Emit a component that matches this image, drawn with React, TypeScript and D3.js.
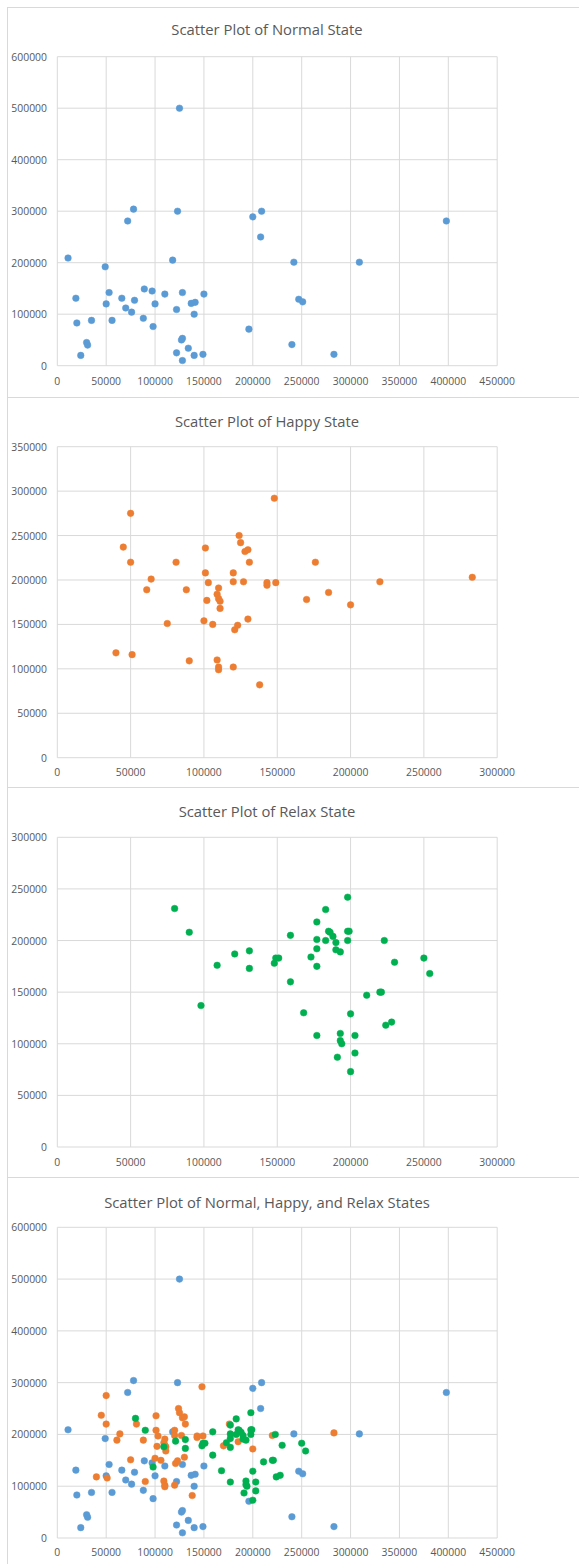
import React from "react";
import * as d3 from "d3";

type Pt = [number, number];

const normalData: Pt[] = [
  [11000, 209000], [19000, 131000], [20000, 83000], [24000, 20000], [30000, 45000],
  [31000, 40000], [35000, 88000], [49000, 192000], [50000, 120000], [53000, 142000],
  [56000, 88000], [66000, 131000], [70000, 112000], [72000, 281000], [76000, 104000],
  [78000, 304000], [79000, 127000], [88000, 92000], [89000, 149000], [97000, 145000],
  [98000, 76000], [100000, 120000], [110000, 139000], [118000, 205000], [122000, 109000],
  [122000, 25000], [123000, 300000], [125000, 500000], [127000, 50000], [128000, 53000],
  [128000, 142000], [128000, 10000], [134000, 34000], [137000, 121000], [141000, 123000],
  [140000, 100000], [140000, 20000], [149000, 22000], [150000, 139000], [196000, 71000],
  [200000, 289000], [208000, 250000], [209000, 300000], [240000, 41000], [242000, 201000],
  [247000, 129000], [251000, 124000], [283000, 22000], [309000, 201000], [398000, 281000],
];

const happyData: Pt[] = [
  [40000, 118000], [45000, 237000], [50000, 275000], [50000, 220000], [51000, 116000],
  [61000, 189000], [64000, 201000], [75000, 151000], [81000, 220000], [88000, 189000],
  [90000, 109000], [100000, 154000], [101000, 236000], [101000, 208000], [102000, 177000],
  [103000, 197000], [106000, 150000], [110000, 191000], [109000, 184000], [110000, 179000],
  [111000, 176000], [111000, 168000], [109000, 110000], [110000, 102000], [110000, 99000],
  [120000, 208000], [120000, 198000], [120000, 102000], [121000, 144000], [123000, 149000],
  [124000, 250000], [125000, 242000], [127000, 198000], [128000, 232000], [130000, 234000],
  [131000, 220000], [130000, 156000], [138000, 82000], [143000, 197000], [143000, 194000],
  [148000, 292000], [149000, 197000], [170000, 178000], [176000, 220000], [185000, 186000],
  [200000, 172000], [220000, 198000], [283000, 203000],
];

const relaxData: Pt[] = [
  [80000, 231000], [90000, 208000], [98000, 137000], [109000, 176000], [121000, 187000],
  [131000, 190000], [131000, 173000], [148000, 178000], [149000, 183000], [151000, 183000],
  [159000, 205000], [159000, 160000], [168000, 130000], [173000, 184000], [177000, 201000],
  [177000, 192000], [177000, 175000], [177000, 218000], [177000, 108000], [183000, 200000],
  [183000, 230000], [185000, 209000], [186000, 208000], [188000, 204000], [190000, 198000],
  [190000, 191000], [193000, 189000], [191000, 87000], [193000, 103000], [193000, 110000],
  [194000, 100000], [198000, 242000], [198000, 209000], [199000, 209000], [198000, 200000],
  [200000, 129000], [200000, 73000], [203000, 108000], [203000, 91000], [211000, 147000],
  [220000, 150000], [221000, 150000], [223000, 200000], [224000, 118000], [228000, 121000],
  [230000, 179000], [250000, 183000], [254000, 168000],
];

const chartTitles = [
  "Scatter Plot of Normal State",
  "Scatter Plot of Happy State",
  "Scatter Plot of Relax State",
  "Scatter Plot of Normal, Happy, and Relax States",
];
const xMaxes = [450000, 300000, 300000, 450000];
const yMaxes = [600000, 350000, 300000, 600000];
const xSteps = [50000, 50000, 50000, 50000];
const ySteps = [100000, 50000, 50000, 100000];

const COLORS = { normal: "#5B9BD5", happy: "#ED7D31", relax: "#00B050" };

const panelSeries: { data: Pt[]; color: string }[][] = [
  [{ data: normalData, color: COLORS.normal }],
  [{ data: happyData, color: COLORS.happy }],
  [{ data: relaxData, color: COLORS.relax }],
  [
    { data: normalData, color: COLORS.normal },
    { data: happyData, color: COLORS.happy },
    { data: relaxData, color: COLORS.relax },
  ],
];

// layout (absolute px)
const layout = [
  { top: 7, title: 29.3, plotTop: 56.7, plotBottom: 365.7, tickY: 380.7 },
  { top: 397, title: 420.7, plotTop: 446.7, plotBottom: 757.7, tickY: 772.3 },
  { top: 787, title: 810.7, plotTop: 837.3, plotBottom: 1147, tickY: 1161.7 },
  { top: 1177, title: 1201.7, plotTop: 1227.3, plotBottom: 1538, tickY: 1552.3 },
];
const PLOT_LEFT = 57.3;
const PLOT_RIGHT = 497.2;
const FONT = "'Open Sans', 'Noto Sans', sans-serif";
const TEXT = "#595959";
const GRID = "#D9D9D9";

function Panel({ i }: { i: number }) {
  const L = layout[i];
  const x = d3.scaleLinear().domain([0, xMaxes[i]]).range([PLOT_LEFT, PLOT_RIGHT]);
  const y = d3.scaleLinear().domain([0, yMaxes[i]]).range([L.plotBottom, L.plotTop]);
  const xTicks = d3.range(0, xMaxes[i] + 1, xSteps[i]);
  const yTicks = d3.range(0, yMaxes[i] + 1, ySteps[i]);
  return (
    <g>
      <rect x={7.5} y={L.top + 0.5} width={600} height={390} fill="#fff" stroke={GRID} strokeWidth={1} />
      <text x={267} y={L.title} textAnchor="middle" dominantBaseline="central" fontFamily={FONT} fontSize={14.8} fill={TEXT}>
        {chartTitles[i]}
      </text>
      {yTicks.map((t) => (
        <line key={"gy" + t} x1={PLOT_LEFT} x2={PLOT_RIGHT} y1={y(t)} y2={y(t)} stroke={GRID} strokeWidth={1} />
      ))}
      {xTicks.map((t) => (
        <line key={"gx" + t} x1={x(t)} x2={x(t)} y1={L.plotTop} y2={L.plotBottom} stroke={GRID} strokeWidth={1} />
      ))}
      {yTicks.map((t) => (
        <text key={"ty" + t} x={47} y={y(t)} textAnchor="end" dominantBaseline="central" fontFamily={FONT} fontSize={10.4} fill={TEXT}>
          {t}
        </text>
      ))}
      {xTicks.map((t) => (
        <text key={"tx" + t} x={x(t)} y={L.tickY} textAnchor="middle" dominantBaseline="central" fontFamily={FONT} fontSize={10.4} fill={TEXT}>
          {t}
        </text>
      ))}
      {panelSeries[i].map((s, si) => (
        <g key={"s" + si}>
          {s.data.map((d, di) => (
            <circle key={di} cx={x(d[0])} cy={y(d[1])} r={3.3} fill={s.color} stroke={s.color} strokeWidth={0.5} />
          ))}
        </g>
      ))}
    </g>
  );
}

export default function App() {
  return (
    <svg
      width={579}
      height={1564}
      style={{ position: "absolute", left: 0, top: 0, display: "block", background: "#fff" }}
    >
      <rect x={0} y={0} width={579} height={1564} fill="#fff" />
      {[0, 1, 2, 3].map((i) => (
        <Panel key={i} i={i} />
      ))}
    </svg>
  );
}
